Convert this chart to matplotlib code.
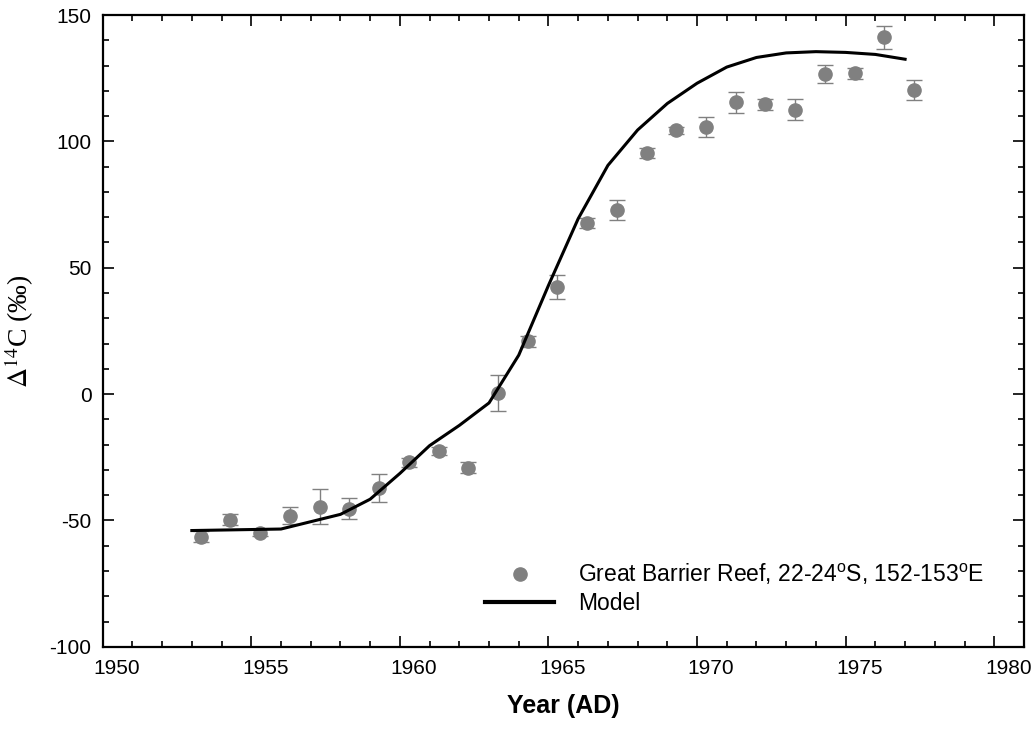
import matplotlib
matplotlib.use("Agg")
from matplotlib import pyplot as plt
from matplotlib.lines import Line2D
import matplotlib.transforms as mtransforms
import numpy as np

plt.rcParams['font.family'] = ['Liberation Sans', 'DejaVu Sans']
plt.rcParams['mathtext.fontset'] = 'custom'
plt.rcParams['mathtext.rm'] = 'Liberation Sans'
plt.rcParams['mathtext.it'] = 'Liberation Sans:italic'
plt.rcParams['axes.unicode_minus'] = False

# coral data (Great Barrier Reef)
coral_year = [1953.3, 1954.3, 1955.3, 1956.3, 1957.3, 1958.3, 1959.3, 1960.3,
              1961.3, 1962.3, 1963.3, 1964.3, 1965.3, 1966.3, 1967.3, 1968.3,
              1969.3, 1970.3, 1971.3, 1972.3, 1973.3, 1974.3, 1975.3, 1976.3,
              1977.3]
coral_d14c = [-56.4, -49.8, -54.8, -48.1, -44.5, -45.3, -37.3, -27.0,
              -22.6, -29.1, 0.4, 20.9, 42.3, 67.7, 72.8, 95.5,
              104.3, 105.7, 115.4, 114.6, 112.6, 126.7, 126.9, 141.1,
              120.2]
coral_err = [2.3, 2.2, 1.5, 3.5, 6.8, 4.0, 5.5, 1.8,
             1.7, 2.2, 7.0, 2.1, 4.7, 2.0, 3.8, 2.0,
             1.5, 4.0, 4.1, 2.1, 4.0, 3.5, 2.2, 4.7,
             4.0]

# model curve
model_year = [1953, 1954, 1955, 1956, 1957, 1958, 1959, 1960, 1961, 1962,
              1963, 1964, 1965, 1966, 1967, 1968, 1969, 1970, 1971, 1972,
              1973, 1974, 1975, 1976, 1977]
model_d14c = [-54.0, -53.8, -53.6, -53.4, -50.5, -47.6, -41.6, -31.4, -20.4, -12.4,
              -3.5, 15.4, 43.0, 69.4, 90.5, 104.5, 115.0, 123.0, 129.4, 133.2,
              135.0, 135.5, 135.2, 134.4, 132.5]

fig = plt.figure(figsize=(10.34, 7.32), dpi=100)
ax = fig.add_axes([0.0993, 0.1164, 0.8910, 0.8631])

gray = '#808080'
ax.plot(model_year, model_d14c, color='black', lw=2.2, zorder=3)
ax.errorbar(coral_year, coral_d14c, yerr=coral_err, fmt='o', color=gray,
            ms=9.5, ecolor=gray, elinewidth=1.0, capsize=6, capthick=1.0,
            zorder=2)

ax.set_xlim(1950, 1981)
ax.set_ylim(-100, 150)
ax.set_xticks(np.arange(1950, 1981, 5))
ax.set_xticks(np.arange(1950, 1981, 1), minor=True)
ax.set_yticks(np.arange(-100, 151, 50))
ax.set_yticks(np.arange(-100, 151, 10), minor=True)
ax.tick_params(which='both', direction='in', top=True, right=True,
               labelsize=15, width=1.2)
ax.tick_params(which='major', length=8, pad=9)
ax.tick_params(which='minor', length=4)
ax.tick_params(axis='y', which='major', pad=8)
for s in ax.spines.values():
    s.set_linewidth(1.6)

# x tick labels sit a little right of their ticks in the original
shift = mtransforms.ScaledTranslation(14 / 100, 0, fig.dpi_scale_trans)
for lab in ax.get_xticklabels():
    lab.set_transform(lab.get_transform() + shift)

ax.set_xlabel('Year (AD)', fontsize=18, fontweight='bold', labelpad=11)
ax.set_ylabel(r'$\Delta^{14}$C (‰)', fontsize=20, family=['Liberation Serif', 'DejaVu Serif'],
              math_fontfamily='stix', labelpad=10)

handles = [
    Line2D([], [], marker='o', color=gray, ls='none', ms=9.5),
    Line2D([], [], color='black', lw=3),
]
labels = [r'Great Barrier Reef, 22-24$^\mathrm{o}$S, 152-153$^\mathrm{o}$E', 'Model']
ax.legend(handles, labels, loc='lower left', bbox_to_anchor=(0.393, 0.018),
          frameon=False, fontsize=16.5, handlelength=3.0, handletextpad=1.05,
          labelspacing=0.2)

fig.savefig('out.png', dpi=100)
